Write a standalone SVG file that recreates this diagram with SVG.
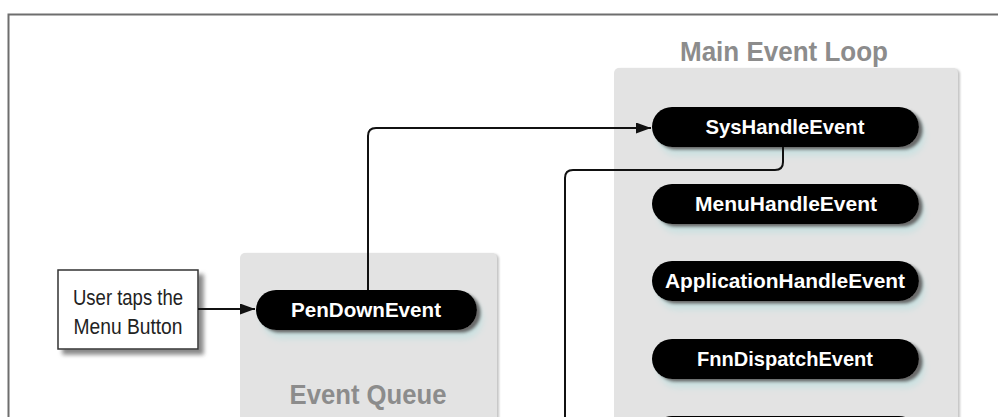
<svg xmlns="http://www.w3.org/2000/svg" width="998" height="417" viewBox="0 0 998 417">
<defs>
<style>
.frame{fill:none;stroke:#6e6e6e;stroke-width:2}
.panel{fill:#e3e3e3}
.ptitle{font-family:"Liberation Sans",Arial,sans-serif;font-weight:bold;font-size:28px;fill:#8c8c8c;text-anchor:middle}
.pill{fill:#000}
.plabel{font-family:"Liberation Sans",Arial,sans-serif;font-weight:bold;font-size:21px;fill:#fff;text-anchor:middle}
.box{fill:#fff;stroke:#333;stroke-width:1.5}
.blabel{font-family:"Liberation Sans",Arial,sans-serif;font-size:22px;fill:#222;text-anchor:middle}
.conn{fill:none;stroke:#111;stroke-width:2}
</style>
<filter id="ps" x="-10%" y="-40%" width="130%" height="200%">
<feOffset in="SourceAlpha" dx="6" dy="9" result="o1"/>
<feGaussianBlur in="o1" stdDeviation="3" result="b1"/>
<feFlood flood-color="#cbe1e1"/>
<feComposite in2="b1" operator="in" result="halo"/>
<feOffset in="SourceAlpha" dx="4" dy="3" result="o2"/>
<feGaussianBlur in="o2" stdDeviation="1.5" result="b2"/>
<feFlood flood-color="#6a6a6a"/>
<feComposite in2="b2" operator="in" result="sh"/>
<feMerge><feMergeNode in="halo"/><feMergeNode in="sh"/><feMergeNode in="SourceGraphic"/></feMerge>
</filter>
<filter id="bs" x="-10%" y="-10%" width="130%" height="130%">
<feOffset in="SourceAlpha" dx="5" dy="5" result="o"/>
<feGaussianBlur in="o" stdDeviation="2" result="b"/>
<feFlood flood-color="#8a8a8a"/>
<feComposite in2="b" operator="in" result="s"/>
<feMerge><feMergeNode in="s"/><feMergeNode in="SourceGraphic"/></feMerge>
</filter>
<filter id="pn" x="-5%" y="-5%" width="110%" height="110%">
<feOffset in="SourceAlpha" dx="2" dy="1" result="o"/>
<feGaussianBlur in="o" stdDeviation="1" result="b"/>
<feFlood flood-color="#c4c4c4"/>
<feComposite in2="b" operator="in" result="s"/>
<feMerge><feMergeNode in="s"/><feMergeNode in="SourceGraphic"/></feMerge>
</filter>
<marker id="ah" markerUnits="userSpaceOnUse" markerWidth="15" markerHeight="11" refX="15" refY="5.5" orient="auto">
<path d="M0,0 L15,5.5 L0,11 z" fill="#111"/>
</marker>
</defs>
<rect width="998" height="417" fill="#fff"/>
<path class="frame" d="M8.5 430 V14.5 H1000"/>

<g id="main-event-loop">
<rect class="panel" x="614" y="68" width="344" height="370" rx="5" filter="url(#pn)"/>
<text class="ptitle" x="784" y="61" textLength="208" lengthAdjust="spacingAndGlyphs">Main Event Loop</text>
</g>
<g id="event-queue">
<rect class="panel" x="240" y="253" width="257" height="190" rx="5" filter="url(#pn)"/>
<text class="ptitle" x="368" y="404" textLength="157" lengthAdjust="spacingAndGlyphs">Event Queue</text>
</g>

<g id="user-taps">
<rect class="box" x="58" y="270" width="140" height="79" filter="url(#bs)"/>
<text class="blabel" x="128" y="305" textLength="110" lengthAdjust="spacingAndGlyphs">User taps the</text>
<text class="blabel" x="128" y="334" textLength="109" lengthAdjust="spacingAndGlyphs">Menu Button</text>
</g>

<g id="pen-down-event">
<rect class="pill" x="256" y="290" width="221" height="40" rx="20" filter="url(#ps)"/>
<text class="plabel" x="366" y="317" textLength="150" lengthAdjust="spacingAndGlyphs">PenDownEvent</text>
</g>

<g id="sys-handle-event">
<rect class="pill" x="652" y="107" width="267" height="40" rx="20" filter="url(#ps)"/>
<text class="plabel" x="785" y="134" textLength="159" lengthAdjust="spacingAndGlyphs">SysHandleEvent</text>
</g>
<g id="menu-handle-event">
<rect class="pill" x="652" y="184" width="267" height="40" rx="20" filter="url(#ps)"/>
<text class="plabel" x="786" y="211" textLength="182" lengthAdjust="spacingAndGlyphs">MenuHandleEvent</text>
</g>
<g id="application-handle-event">
<rect class="pill" x="652" y="261" width="267" height="40" rx="20" filter="url(#ps)"/>
<text class="plabel" x="785" y="288" textLength="240" lengthAdjust="spacingAndGlyphs">ApplicationHandleEvent</text>
</g>
<g id="fnn-dispatch-event">
<rect class="pill" x="652" y="339" width="267" height="40" rx="20" filter="url(#ps)"/>
<text class="plabel" x="785" y="366" textLength="176" lengthAdjust="spacingAndGlyphs">FnnDispatchEvent</text>
</g>
<g id="next-event">
<rect class="pill" x="652" y="416" width="267" height="40" rx="20"/>
</g>

<g id="connectors">
<path class="conn" d="M198 309 H255" marker-end="url(#ah)"/>
<path class="conn" d="M368 290 V136 Q368 128 376 128 H651" marker-end="url(#ah)"/>
<path class="conn" d="M783 147 V162 Q783 170 775 170 H573 Q565 170 565 178 V430"/>
</g>
</svg>
